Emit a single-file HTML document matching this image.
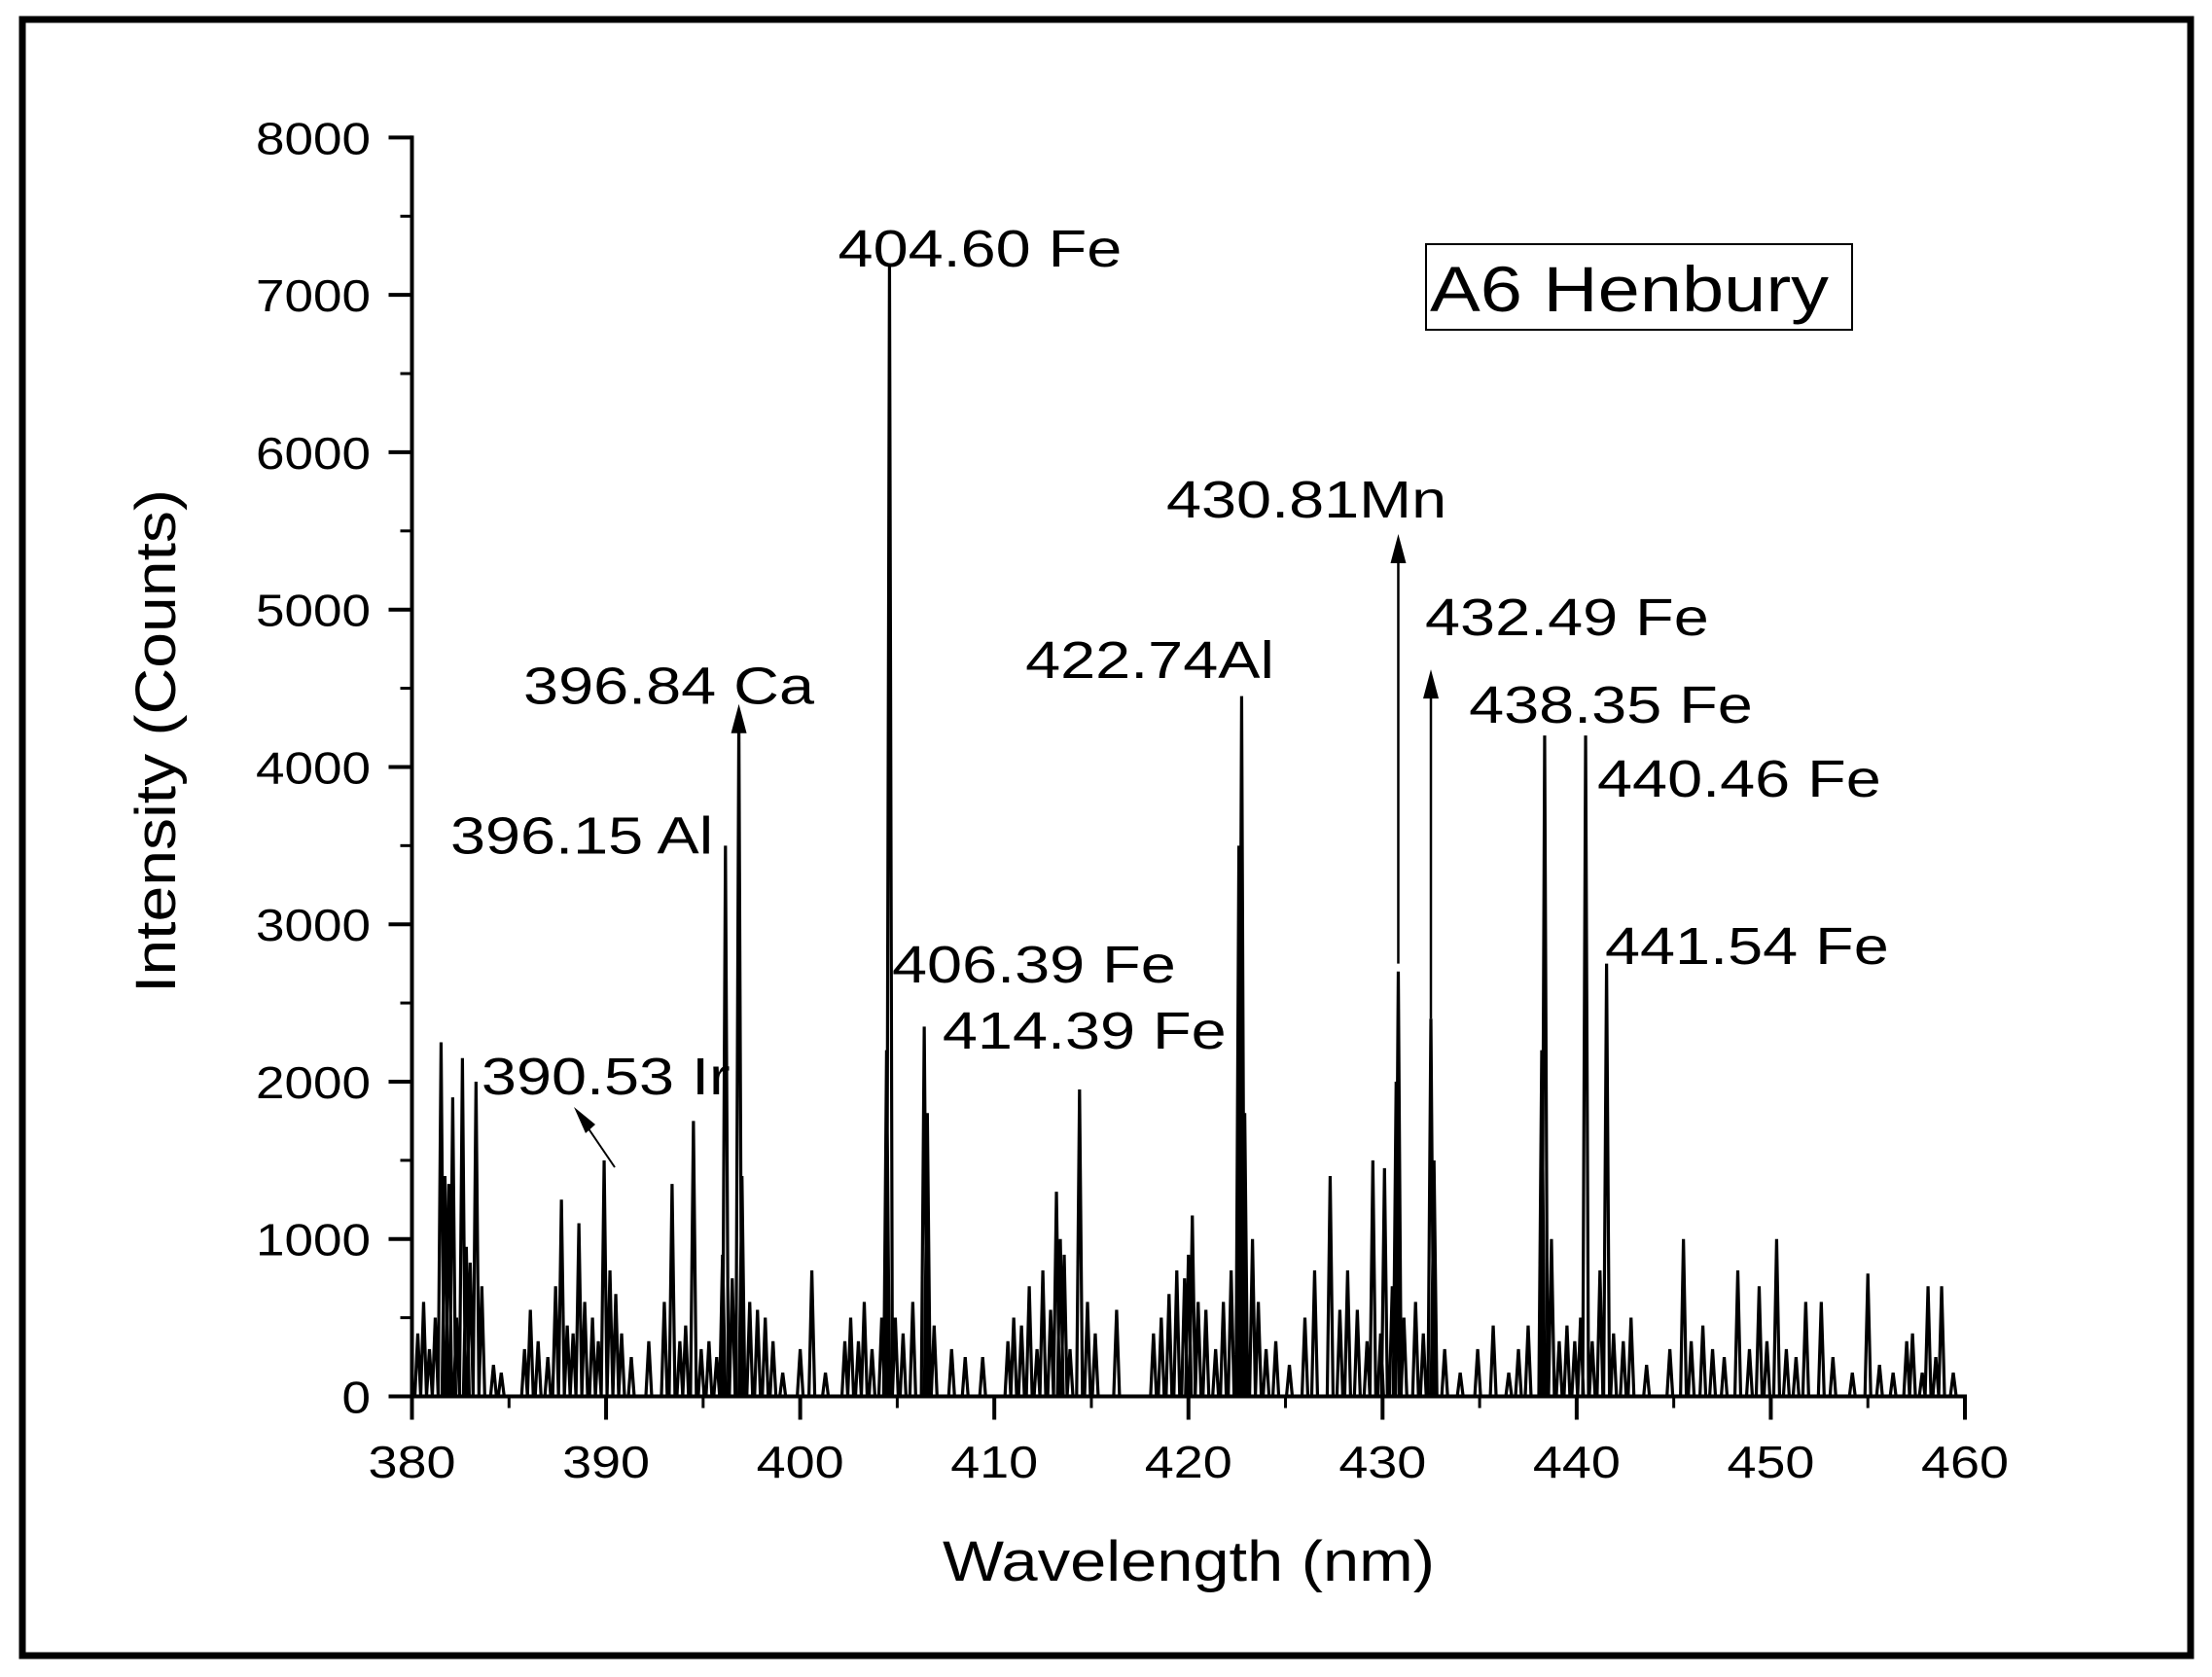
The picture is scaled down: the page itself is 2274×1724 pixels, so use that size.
<!DOCTYPE html>
<html><head><meta charset="utf-8">
<style>
html,body{margin:0;padding:0;background:#fff;}
svg{display:block;}
text{font-family:"Liberation Sans",Arial,sans-serif;fill:#000;}
</style></head>
<body>
<svg id="chart" width="2274" height="1724" viewBox="0 0 2274 1724" xmlns="http://www.w3.org/2000/svg">
<rect x="0" y="0" width="2274" height="1724" fill="#fff"/>
<rect x="23" y="20" width="2229" height="1682" fill="none" stroke="#000" stroke-width="7"/>
<g id="marks"></g>
<g id="axes"></g>
<g id="labels"></g>
<rect x="1466" y="251" width="438" height="88" fill="#fff" stroke="#000" stroke-width="2"/>
<text x="1470" y="320" font-size="66" textLength="410" lengthAdjust="spacingAndGlyphs">A6 Henbury</text>
<text x="1222" y="1625" font-size="58" text-anchor="middle" textLength="506" lengthAdjust="spacingAndGlyphs">Wavelength (nm)</text>
<text transform="translate(180,762) rotate(-90)" font-size="58" text-anchor="middle" textLength="518" lengthAdjust="spacingAndGlyphs">Intensity (Counts)</text>
</svg>
<script>
// ---- data ----
const peakWavelengths = [380.3,380.6,380.9,381.2,381.5,381.7,381.9,382.1,382.3,382.6,382.8,383.0,383.3,383.6,384.2,384.6,385.8,386.1,386.5,387.0,387.4,387.7,388.0,388.3,388.6,388.9,389.3,389.6,389.9,390.2,390.5,390.8,391.3,392.2,393.0,393.4,393.8,394.1,394.5,394.9,395.3,395.7,396.0,396.15,396.5,396.84,397.0,397.4,397.8,398.2,398.6,399.1,400.0,400.6,401.3,402.3,402.6,403.0,403.3,403.7,404.2,404.45,404.6,404.9,405.3,405.8,406.39,406.55,406.9,407.8,408.5,409.4,410.7,411.0,411.4,411.8,412.2,412.5,412.9,413.2,413.4,413.6,413.9,414.39,414.8,415.2,416.3,418.2,418.6,419.0,419.4,419.8,420.0,420.2,420.5,420.9,421.4,421.8,422.2,422.6,422.74,422.9,423.3,423.6,424.0,424.5,425.2,426.0,426.5,427.3,427.8,428.2,428.7,429.2,429.5,429.9,430.1,430.5,430.7,430.81,431.1,431.7,432.1,432.49,432.65,433.2,434.0,434.9,435.7,436.5,437.0,437.5,438.2,438.35,438.7,439.1,439.5,439.9,440.2,440.46,440.8,441.2,441.54,441.9,442.4,442.8,443.6,444.8,445.5,445.9,446.5,447.0,447.6,448.3,448.9,449.4,449.8,450.3,450.8,451.3,451.8,452.6,453.2,454.2,455.0,455.6,456.3,457.0,457.3,457.8,458.1,458.5,458.8,459.4];
const peakIntensities = [400,600,300,500,2250,1400,1350,1900,500,2150,950,850,2000,700,200,150,300,550,350,250,700,1250,450,400,1100,600,500,350,1500,800,650,400,250,350,600,1350,350,450,1750,300,350,250,900,3500,750,4300,1400,600,550,500,350,150,300,800,150,350,500,350,600,300,500,2200,7200,500,400,600,2350,1800,450,300,250,250,350,500,450,700,300,800,550,1300,1000,900,300,1950,600,400,550,400,500,650,800,750,900,1150,600,550,300,600,800,3500,4450,1800,1000,600,300,350,200,500,800,1400,550,800,550,350,1500,400,1450,700,2000,2700,500,600,400,2400,1500,300,150,300,450,150,300,450,2200,4200,1000,350,450,350,500,4200,350,800,2750,400,350,500,200,300,1000,350,450,300,250,800,300,700,350,1000,300,250,600,600,250,150,780,200,150,350,400,150,700,250,700,150];
const yTicks = [0,1000,2000,3000,4000,5000,6000,7000,8000];
const xTicks = [380,390,400,410,420,430,440,450,460];
const labelTexts = ["404.60 Fe","430.81Mn","432.49 Fe","396.84 Ca","422.74Al","438.35 Fe","440.46 Fe","396.15 Al","441.54 Fe","406.39 Fe","414.39 Fe","390.53 Ir"];
const labelWl = [401.95,418.86,432.19,385.74,411.6,434.45,441.06,381.98,441.46,404.73,407.33,383.58];
const labelVal = [7180,5585,4837,4400,4565,4280,3811,3450,2749,2630,2210,1920];
const arrowWl = [396.84,430.81,432.49];
const arrowVal = [4400,5480,4620];
const arrowLow = [2300,2750,2400];

// ---- scales ----
const X0=423.5, X1=2020, Y0=1435.5, Y1=141.4;
function xs(v){return X0+(v-380)/(460-380)*(X1-X0);}
function ys(v){return Y0-(v/8000)*(Y0-Y1);}
const NS="http://www.w3.org/2000/svg";
function mk(tag,attrs,parent){const e=document.createElementNS(NS,tag);for(const k in attrs)e.setAttribute(k,attrs[k]);parent.appendChild(e);return e;}
const marks=document.getElementById('marks'),axes=document.getElementById('axes'),labels=document.getElementById('labels');

// spectrum path
let d="M"+xs(380)+","+ys(0);
for(let i=0;i<peakWavelengths.length;i++){
  const x=xs(peakWavelengths[i]);
  d+=" L"+(x-3)+","+ys(0)+" L"+x+","+ys(peakIntensities[i])+" L"+(x+3)+","+ys(0);
}
d+=" L"+xs(460)+","+ys(0);
const sp=mk('path',{d:d,fill:'none',stroke:'#000','stroke-width':3.2,'stroke-linejoin':'miter'},marks);



// arrows on lines
for(let i=0;i<arrowWl.length;i++){
  const x=xs(arrowWl[i]), yt=ys(arrowVal[i]);
  const l=mk('line',{x1:x,y1:ys(arrowLow[i]),x2:x,y2:yt+10,stroke:'#000','stroke-width':2.5},marks);
  
  
  const p=mk('polygon',{points:(x-8)+","+(yt+30)+" "+x+","+yt+" "+(x+8)+","+(yt+30),fill:'#000'},marks);
  
  
}
// Ir diagonal arrow
const ia=mk('line',{x1:632,y1:1200,x2:598,y2:1150,stroke:'#000','stroke-width':2},marks);


const ih=mk('polygon',{points:"590,1138 612,1156 602,1165",fill:'#000'},marks);



// axes
const ya=mk('line',{x1:X0,y1:Y1-2,x2:X0,y2:Y0+2,stroke:'#000','stroke-width':4},axes);


const xa=mk('line',{x1:X0-2,y1:Y0,x2:X1+2,y2:Y0,stroke:'#000','stroke-width':4},axes);


for(const v of yTicks){
  const y=ys(v);
  const t=mk('line',{x1:X0-24,y1:y,x2:X0,y2:y,stroke:'#000','stroke-width':4},axes);
  
  
  if(v<8000){const m=mk('line',{x1:X0-12,y1:ys(v+500),x2:X0,y2:ys(v+500),stroke:'#000','stroke-width':3},axes);
    
    }
  const s=String(v);
  const tx=mk('text',{x:381,y:y+17,'font-size':46,'text-anchor':'end',textLength:s.length*29.5,lengthAdjust:'spacingAndGlyphs'},axes);
  tx.textContent=s;
  
  
}
for(const v of xTicks){
  const x=xs(v);
  const t=mk('line',{x1:x,y1:Y0,x2:x,y2:Y0+24,stroke:'#000','stroke-width':4},axes);
  
  
  if(v<460){const m=mk('line',{x1:xs(v+5),y1:Y0,x2:xs(v+5),y2:Y0+12,stroke:'#000','stroke-width':3},axes);
    
    }
  const tx=mk('text',{x:x,y:1519,'font-size':46,'text-anchor':'middle',textLength:90,lengthAdjust:'spacingAndGlyphs'},axes);
  tx.textContent=String(v);
  
  
}
// peak labels (horizontally stretched like the reference)
const SX=1.2;
for(let i=0;i<labelTexts.length;i++){
  const tx=mk('text',{x:xs(labelWl[i])/SX,y:ys(labelVal[i]),'font-size':54,transform:'scale('+SX+',1)'},labels);
  tx.textContent=labelTexts[i];
  
  
}
</script>
</body></html>
